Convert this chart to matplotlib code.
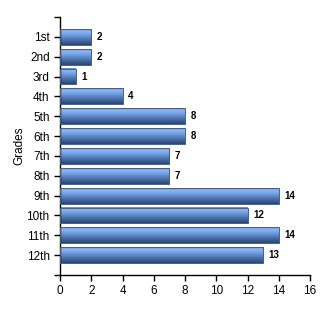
import matplotlib.pyplot as plt
import numpy as np
from matplotlib.colors import LinearSegmentedColormap

grades = ['1st', '2nd', '3rd', '4th', '5th', '6th', '7th', '8th', '9th', '10th', '11th', '12th']
counts = [2, 2, 1, 4, 8, 8, 7, 7, 14, 12, 14, 13]
xticks = [0, 2, 4, 6, 8, 10, 12, 14, 16]

plt.rcParams['font.family'] = ['Liberation Sans', 'DejaVu Sans']

fig = plt.figure(figsize=(3.3, 3.1), dpi=100)
ax = fig.add_axes([60 / 330, 35 / 310, 250 / 330, 258 / 310])

# gradient from top of bar (0) to bottom (1)
cmap = LinearSegmentedColormap.from_list('bar', [
    (0.0, '#5f86c4'), (0.12, '#88b8fd'), (0.3, '#7aa6e8'),
    (0.65, '#4e74ac'), (1.0, '#2b4672')])
grad = np.linspace(0, 1, 64).reshape(-1, 1)

ypos = np.arange(len(grades))
bars = ax.barh(ypos, counts, height=0.8, color='none', edgecolor='#4a5f80',
               linewidth=0.7, zorder=3)
for b, v in zip(bars, counts):
    x0, y0, w, h = b.get_x(), b.get_y(), b.get_width(), b.get_height()
    ax.imshow(grad, cmap=cmap, aspect='auto', extent=(x0, x0 + w, y0 + h, y0),
              zorder=2, interpolation='bilinear')
    ax.text(v + 0.35, y0 + h / 2, str(v), va='center', ha='left',
            fontsize=7, fontweight='bold', color='black')

ax.set_ylim(12, -1)
ax.set_xlim(0, 16)
ax.set_yticks(ypos)
ax.set_yticklabels(grades, fontsize=8.5)
ax.set_yticks([-1, 12], minor=True)
ax.set_xticks(xticks)
ax.set_xticklabels([str(t) for t in xticks], fontsize=8.5)
ax.tick_params(axis='both', which='both', direction='out', length=4, width=1)
ax.set_ylabel('Grades', fontsize=8.5, labelpad=1)

for s in ['top', 'right']:
    ax.spines[s].set_visible(False)
ax.spines['left'].set_linewidth(1)
ax.spines['bottom'].set_linewidth(1)

fig.savefig('out.png', dpi=100)
